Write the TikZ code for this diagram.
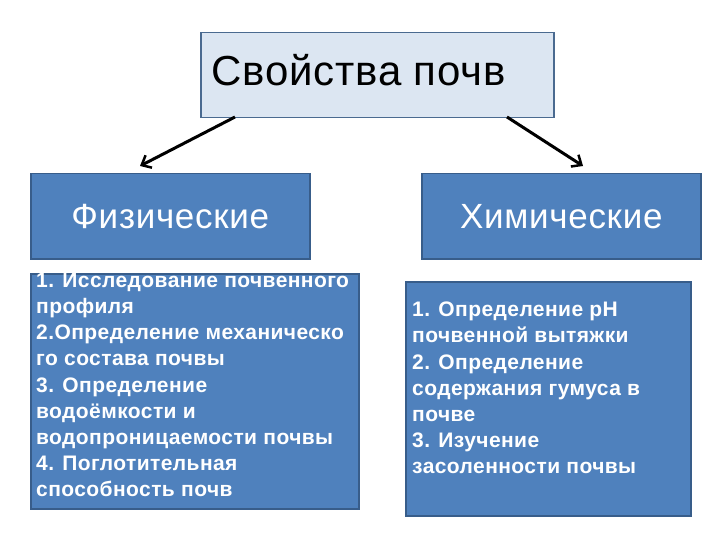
\documentclass[tikz,border=0pt]{standalone}
\usepackage{fontspec}
\setmainfont{Liberation Sans}
\newfontfamily\titlefont[LetterSpace=2]{Liberation Sans}
\newfontfamily\headfont[LetterSpace=2]{Liberation Sans}
\newfontfamily\listfont[LetterSpace=2]{Liberation Sans}
\usetikzlibrary{arrows.meta,positioning}
\definecolor{topfill}{HTML}{DCE6F2}
\definecolor{topdraw}{HTML}{4A6A90}
\definecolor{bfill}{HTML}{4F81BD}
\definecolor{bdraw}{HTML}{385D8A}
\tikzset{
  topbox/.style={draw=topdraw, fill=topfill, line width=1.5pt, minimum width=353pt, minimum height=85pt, inner sep=0pt},
  headbox/.style={draw=bdraw, fill=bfill, line width=1.5pt, minimum width=279pt, minimum height=85pt, inner sep=0pt, text=white, font=\headfont\fontsize{35}{40}\selectfont},
  listbox/.style={draw=bdraw, fill=bfill, line width=1.5pt, inner sep=0pt, anchor=north west},
  listtext/.style={text=white, font=\listfont\bfseries\fontsize{21}{26.1}\selectfont, align=left, anchor=north west, inner sep=0pt},
  conn/.style={line width=3pt, -{Straight Barb[length=8pt, width=14pt, line width=2.5pt]}}
}
\begin{document}
\begin{tikzpicture}[x=1pt,y=-1pt]
\useasboundingbox[fill=white] (0,0) rectangle (720,540);
\node[topbox, anchor=north west] (top) at (200,32) {};
\node[anchor=west, inner sep=0pt, font=\titlefont\fontsize{42}{48}\selectfont] (toptext) at (211,70) {Свойства почв};
\node[headbox, anchor=north west] (phys) at (30,173) {Физические};
\node[headbox, anchor=north west] (chem) at (421,173) {Химические};
\node[listbox, minimum width=328pt, minimum height=235pt] (plist) at (30,273) {};
\node[listbox, minimum width=285pt, minimum height=234pt] (clist) at (405,281) {};
\node[listtext] (ptext) at (36,273) {1. Исследование почвенного\\профиля\\2.Определение механическо\\го состава почвы\\3. Определение\\водоёмкости и\\водопроницаемости почвы\\4. Поглотительная\\способность почв};
\node[listtext] (ctext) at (412,302) {1. Определение pH\\почвенной вытяжки\\2. Определение\\содержания гумуса в\\почве\\3. Изучение\\засоленности почвы};
\coordinate (lstart) at (235,117);
\coordinate (lend) at (140,166);
\coordinate (rstart) at (507,117);
\coordinate (rend) at (583,166);
\draw[conn] (lstart) -- (lend);
\draw[conn] (rstart) -- (rend);
\end{tikzpicture}
\end{document}
